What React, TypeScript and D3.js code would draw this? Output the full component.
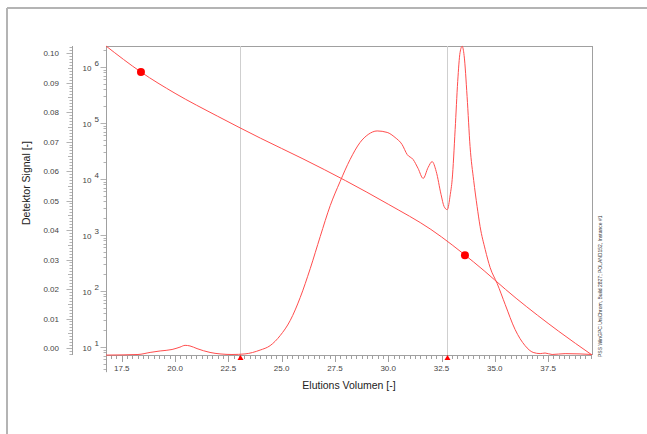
import React from "react";
import * as d3 from "d3";

// Elution volume axis (mL) and detector trace
const volumes = [
  16.76, 18.26, 18.83, 19.3, 19.86, 20.23, 20.47, 20.7, 21.03, 21.64, 22.11, 22.67,
  23.28, 23.99, 24.46, 24.93, 25.4, 25.87, 26.34, 26.81, 27.28, 27.74, 28.21, 28.68,
  29.06, 29.48, 29.95, 30.32, 30.65, 30.89, 31.17, 31.4, 31.64, 31.87, 32.06, 32.25,
  32.48, 32.62, 32.77, 32.91, 33.0, 33.14, 33.26, 33.37, 33.47, 33.56, 33.7, 33.84,
  34.01, 34.17, 34.31, 34.55, 34.78, 35.11, 35.49, 35.95, 36.42, 36.8, 37.13, 37.36,
  37.69, 38.3, 39.0, 39.56,
];
const signal = [
  -0.0024, -0.0022, -0.0015, -0.001, -0.0005, 0.0003, 0.0009, 0.0007, -0.0002, -0.0015,
  -0.002, -0.0022, -0.002, -0.0007, 0.0008, 0.0042, 0.0093, 0.0171, 0.0269, 0.0378,
  0.0483, 0.0564, 0.0639, 0.0697, 0.0724, 0.0736, 0.0731, 0.0714, 0.069, 0.0656, 0.0639,
  0.0609, 0.0575, 0.0612, 0.0632, 0.0599, 0.052, 0.048, 0.0469, 0.052, 0.0571, 0.0741,
  0.0904, 0.1002, 0.1023, 0.0992, 0.0853, 0.0683, 0.0568, 0.048, 0.0412, 0.0334, 0.0273,
  0.0219, 0.0147, 0.0063, 0.0008, -0.0015, -0.0019, -0.0017, -0.0022, -0.0019, -0.002,
  -0.0022,
];

// Calibration curve: log10 molar mass vs. elution volume
const calVolumes = [16.76, 18.4, 20, 22, 24, 26, 28, 30, 32, 34, 36, 38, 39.56];
const calLogMass = [6.375, 5.91, 5.53, 5.12, 4.73, 4.36, 3.97, 3.55, 3.1, 2.52, 1.87, 1.28, 0.857];

// Calibration standards
const stdVolumes = [18.4, 33.6];
const stdLogMass = [5.91, 2.64];

// Integration limits
const limitVolumes = [23.05, 32.74];

// Tick labels
const xTickValues = [17.5, 20.0, 22.5, 25.0, 27.5, 30.0, 32.5, 35.0, 37.5];
const signalTickValues = [0.0, 0.01, 0.02, 0.03, 0.04, 0.05, 0.06, 0.07, 0.08, 0.09, 0.1];
const massExponents = [1, 2, 3, 4, 5, 6];

const W = 647;
const H = 434;
const L = 106;
const R = 592;
const T = 46;
const B = 355;

const FONT = "Arial, 'Liberation Sans', sans-serif";
const RED = "#ff4d4d";
const AXIS = "#a0a0a0";
const LABEL = "#444";

export default function App() {
  const x = d3.scaleLinear().domain([16.76, 39.56]).range([L, R]);
  const yS = d3.scaleLinear().domain([-0.00237, 0.1024]).range([B, T]);
  const yM = d3.scaleLinear().domain([0.857, 6.375]).range([B, T]); // log10 M

  const signalLine = d3
    .line<number>()
    .x((_, i) => x(volumes[i]))
    .y((d) => yS(d))
    .curve(d3.curveMonotoneX)(signal);

  const calLine = d3
    .line<number>()
    .x((_, i) => x(calVolumes[i]))
    .y((d) => yM(d))
    .curve(d3.curveMonotoneX)(calLogMass);

  // x ruler ticks
  const xMinor = d3.range(17.0, 39.51, 0.25).filter((v) => v >= 16.76 && v <= 39.56);
  // detector ruler ticks
  const sMinor = d3.range(-0.002, 0.1021, 0.001);
  // log ruler ticks (extends below plot)
  const mTicks: { v: number; major: boolean }[] = [];
  for (let e = 0; e <= 6; e++) {
    for (let k = 1; k <= 9; k++) {
      const lv = e + Math.log10(k);
      if (lv >= 0.55 && lv <= 6.375) mTicks.push({ v: lv, major: k === 1 });
    }
  }

  const tri = (cx: number) => `M${cx - 3},${B + 5} L${cx + 3},${B + 5} L${cx},${B} Z`;

  return (
    <svg
      width={W}
      height={H}
      style={{ position: "absolute", left: 0, top: 0, background: "#fff" }}
      fontFamily={FONT}
    >
      {/* outer frame */}
      <line x1={7} y1={8} x2={W} y2={8} stroke="#b4b4b4" strokeWidth={2} />
      <line x1={7} y1={8} x2={7} y2={H} stroke="#b4b4b4" strokeWidth={2} />

      {/* plot frame */}
      <line x1={L} y1={T + 0.5} x2={R} y2={T + 0.5} stroke={AXIS} />
      <line x1={R + 0.5} y1={T} x2={R + 0.5} y2={B} stroke={AXIS} />
      <line x1={L} y1={B + 0.5} x2={R} y2={B + 0.5} stroke={AXIS} />

      {/* integration limits */}
      {limitVolumes.map((v, i) => (
        <line key={i} x1={Math.round(x(v)) + 0.5} y1={T} x2={Math.round(x(v)) + 0.5} y2={B} stroke="#cfcfcf" />
      ))}

      {/* x ruler */}
      {xMinor.map((v, i) => {
        const major = Math.abs(v / 2.5 - Math.round(v / 2.5)) < 1e-6;
        const px = Math.round(x(v)) + 0.5;
        return <line key={i} x1={px} y1={B + 1} x2={px} y2={B + (major ? 7 : 4)} stroke={AXIS} />;
      })}
      {xTickValues.map((v, i) => (
        <text key={i} x={x(v)} y={371} fontSize={8} fill={LABEL} textAnchor="middle">
          {v.toFixed(1)}
        </text>
      ))}

      {/* detector ruler */}
      <line x1={72.5} y1={T} x2={72.5} y2={B} stroke={AXIS} />
      {sMinor.map((v, i) => {
        const r = Math.round(v * 1000);
        const len = r % 10 === 0 ? 6 : r % 5 === 0 ? 4.5 : 3;
        const py = Math.round(yS(v)) + 0.5;
        return <line key={i} x1={72.5 - len} y1={py} x2={72.5} y2={py} stroke={AXIS} strokeWidth={0.8} />;
      })}
      {signalTickValues.map((v, i) => (
        <text key={i} x={59} y={yS(v) + 3} fontSize={8} fill={LABEL} textAnchor="end">
          {v.toFixed(2)}
        </text>
      ))}

      {/* molar mass ruler */}
      <line x1={L + 0.5} y1={T} x2={L + 0.5} y2={yM(0.55)} stroke={AXIS} />
      {mTicks.map((t, i) => {
        const py = Math.round(yM(t.v)) + 0.5;
        return <line key={i} x1={L + 0.5 - (t.major ? 6 : 3)} y1={py} x2={L + 0.5} y2={py} stroke={AXIS} strokeWidth={0.8} />;
      })}
      {massExponents.map((e) => (
        <text key={e} x={82.5} y={yM(e) + 4.5} fontSize={8} fill={LABEL}>
          10
          <tspan dx={3} dy={-5.5} fontSize={8}>
            {e}
          </tspan>
        </text>
      ))}

      {/* traces */}
      <path d={calLine ?? ""} fill="none" stroke={RED} strokeWidth={1} />
      <path d={signalLine ?? ""} fill="none" stroke={RED} strokeWidth={1} />

      {stdVolumes.map((v, i) => (
        <circle key={i} cx={x(v)} cy={yM(stdLogMass[i])} r={4} fill="#ff0000" />
      ))}

      {limitVolumes.map((v, i) => (
        <path key={i} d={tri(Math.round(x(v)) + 0.5)} fill="#ff0000" />
      ))}

      {/* axis titles */}
      <text x={349} y={389} fontSize={10.5} fill="#222" textAnchor="middle">
        Elutions Volumen [-]
      </text>
      <text transform="translate(30,183) rotate(-90)" fontSize={10.5} fill="#222" textAnchor="middle">
        Detektor Signal [-]
      </text>

      {/* build stamp */}
      <text transform="translate(602,357) rotate(-90)" fontSize={5} fill="#333">
        PSS WinGPC UniChrom, Build 2827; POLAND152, Instance #1
      </text>
    </svg>
  );
}
